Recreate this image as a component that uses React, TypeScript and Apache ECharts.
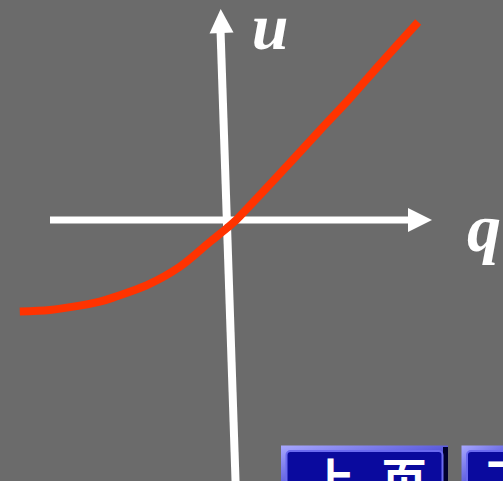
import React, { useEffect, useRef } from "react";
import * as echarts from "echarts";

// Red curve u(q), in axis units (origin where the white axes cross)
const curveQ = [-5.18, -4.43, -3.68, -3.18, -2.85, -2.0, -1.18, -0.43, 0, 0.23, 1.5, 2.33, 3.08, 3.83, 4.78];
const curveU = [-2.29, -2.25, -2.14, -2.04, -1.94, -1.63, -1.17, -0.55, -0.2, 0, 1.35, 2.25, 3.05, 3.9, 4.95];

// Axis shafts (start, end) and arrow heads
const vAxisQ = [0.216, -0.1625];
const vAxisU = [-6.6, 4.75];
const hAxisQ = [-4.425, 4.625];
const hAxisU = [0, 0];
const arrowQ = [-0.1475, 4.825];
const arrowU = [4.975, 0];
const arrowRotate = [2, -90];

const axisNames = ["u", "q"];
const buttonLabels = ["上", "页", "下"];

export default function App() {
  const ref = useRef<HTMLDivElement>(null);
  useEffect(() => {
    if (!ref.current) return;
    const chart = echarts.init(ref.current, undefined, { renderer: "svg" });
    const bevel = new echarts.graphic.LinearGradient(0, 0, 1, 1, [
      { offset: 0, color: "#a8a8ff" },
      { offset: 0.6, color: "#5050d8" },
      { offset: 1, color: "#1a1a90" },
    ]);
    const button = (x: number, w: number) => [
      { type: "rect", shape: { x, y: 445.5, width: w, height: 40 }, style: { fill: bevel } },
      { type: "rect", shape: { x: x + w - 5, y: 447, width: 5, height: 40 }, style: { fill: "#000030" } },
      {
        type: "rect",
        shape: { x: x + 5.5, y: 451, width: w - 11, height: 40, r: 4 },
        style: { fill: "#0a0a9e", stroke: "#6a6af0", lineWidth: 2 },
      },
    ];
    const btnFont = 'bold 46px "Noto Sans CJK SC"';
    chart.setOption({
      animation: false,
      backgroundColor: "#6b6b6b",
      grid: { left: 0, right: 0, top: 0, bottom: 0 },
      xAxis: { type: "value", min: -5.675, max: 6.9, show: false },
      yAxis: { type: "value", min: -6.525, max: 5.5, show: false },
      series: [
        {
          type: "line",
          data: vAxisQ.map((q, i) => [q, vAxisU[i]]),
          symbol: "none",
          lineStyle: { color: "#ffffff", width: 8 },
          silent: true,
        },
        {
          type: "line",
          data: hAxisQ.map((q, i) => [q, hAxisU[i]]),
          symbol: "none",
          lineStyle: { color: "#ffffff", width: 7 },
          silent: true,
        },
        {
          type: "scatter",
          data: arrowQ.map((q, i) => ({ value: [q, arrowU[i]], symbolRotate: arrowRotate[i] })),
          symbol: "triangle",
          symbolSize: [24, 24],
          itemStyle: { color: "#ffffff", opacity: 1 },
          silent: true,
        },
        {
          type: "line",
          data: curveQ.map((q, i) => [q, curveU[i]]),
          symbol: "none",
          smooth: 0.3,
          lineStyle: { color: "#ff3300", width: 8, cap: "butt" },
          silent: true,
        },
      ],
      graphic: [
        {
          type: "text",
          style: {
            text: axisNames[0],
            x: 270,
            y: 26,
            fill: "#ffffff",
            font: 'bold italic 66px "Liberation Serif"',
            textAlign: "center",
            textVerticalAlign: "middle",
          },
        },
        {
          type: "text",
          style: {
            text: axisNames[1],
            x: 484,
            y: 228,
            fill: "#ffffff",
            font: 'bold italic 68px "Liberation Serif"',
            textAlign: "center",
            textVerticalAlign: "middle",
          },
        },
        ...button(281, 167),
        ...button(461.5, 60),
        {
          type: "text",
          style: { text: buttonLabels[0], x: 332, y: 454, fill: "#ffffff", font: btnFont, textAlign: "center", textVerticalAlign: "top" },
        },
        {
          type: "text",
          style: { text: buttonLabels[1], x: 404, y: 454, fill: "#ffffff", font: btnFont, textAlign: "center", textVerticalAlign: "top" },
        },
        {
          type: "text",
          style: { text: buttonLabels[2], x: 509, y: 454, fill: "#ffffff", font: btnFont, textAlign: "center", textVerticalAlign: "top" },
        },
      ],
    });
    return () => chart.dispose();
  }, []);
  return (
    <div
      ref={ref}
      style={{ position: "absolute", left: 0, top: 0, width: 503, height: 481 }}
    />
  );
}
